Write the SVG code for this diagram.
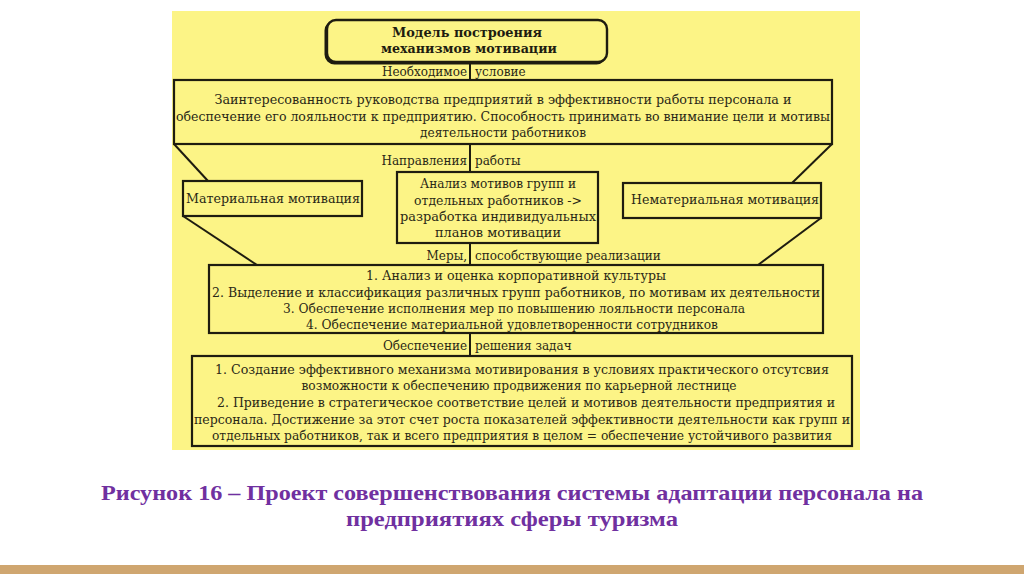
<svg xmlns="http://www.w3.org/2000/svg" width="1024" height="574" viewBox="0 0 1024 574">
<style>
.box{fill:none;stroke:#1e1c10;stroke-width:2.2}
.ln{stroke:#1e1c10;stroke-width:2;fill:none}
.t{font-family:"DejaVu Serif","Liberation Serif",serif;font-size:12px;fill:#2a2816}
.c{text-anchor:middle}
.r{text-anchor:end}
.tb{font-family:"DejaVu Serif","Liberation Serif",serif;font-size:12.5px;font-weight:bold;fill:#1e1c10;text-anchor:middle}
.cap{font-family:"Liberation Serif",serif;font-size:21px;font-weight:bold;fill:#7030A0;text-anchor:middle}
</style>
<rect x="0" y="0" width="1024" height="574" fill="#ffffff"/>
<rect x="172" y="11" width="688" height="439" fill="#fcf486"/>
<rect x="0" y="565" width="1024" height="9" fill="#cfa670"/>

<g id="connectors">
<line class="ln" x1="470" y1="62" x2="470" y2="80"/>
<line class="ln" x1="470" y1="144" x2="470" y2="172"/>
<line class="ln" x1="470" y1="243" x2="470" y2="265"/>
<line class="ln" x1="470" y1="333" x2="470" y2="356"/>
<line class="ln" x1="174" y1="144" x2="208" y2="181"/>
<line class="ln" x1="832" y1="144" x2="792" y2="183"/>
<line class="ln" x1="183" y1="216" x2="257" y2="265"/>
<line class="ln" x1="821" y1="218" x2="758" y2="265"/>
<text class="t r" x="467" y="76">Необходимое</text>
<text class="t" x="475" y="76">условие</text>
<text class="t r" x="467" y="165">Направления</text>
<text class="t" x="475" y="165">работы</text>
<text class="t r" x="467" y="260">Меры,</text>
<text class="t" x="475" y="260">способствующие реализации</text>
<text class="t r" x="467" y="350">Обеспечение</text>
<text class="t" x="475" y="350">решения задач</text>
</g>

<g id="title">
<rect x="325.5" y="21.5" width="280" height="42" rx="9" fill="#1e1c10" stroke="#1e1c10" stroke-width="2"/>
<rect x="327" y="20" width="280" height="42" rx="9" fill="#fcf486" stroke="#1e1c10" stroke-width="2.4"/>
<text class="tb" x="467" y="37" textLength="150" lengthAdjust="spacingAndGlyphs">Модель построения</text>
<text class="tb" x="469" y="53" textLength="176" lengthAdjust="spacingAndGlyphs">механизмов мотивации</text>
</g>

<g id="condition">
<rect x="174" y="80" width="658" height="64" class="box"/>
<text class="t c" x="503" y="104" textLength="577" lengthAdjust="spacingAndGlyphs">Заинтересованность руководства предприятий в эффективности работы персонала и</text>
<text class="t c" x="503" y="121" textLength="654" lengthAdjust="spacingAndGlyphs">обеспечение его лояльности к предприятию. Способность принимать во внимание цели и мотивы</text>
<text class="t c" x="503" y="137" textLength="166" lengthAdjust="spacingAndGlyphs">деятельности работников</text>
</g>

<g id="material">
<rect x="183" y="181" width="179" height="35" class="box"/>
<text class="t c" x="273" y="203" textLength="174" lengthAdjust="spacingAndGlyphs">Материальная мотивация</text>
</g>

<g id="analysis">
<rect x="397" y="172" width="201" height="71" class="box"/>
<text class="t c" x="498" y="188" textLength="156" lengthAdjust="spacingAndGlyphs">Анализ мотивов групп и</text>
<text class="t c" x="498" y="205" textLength="168" lengthAdjust="spacingAndGlyphs">отдельных работников -&gt;</text>
<text class="t c" x="498" y="221" textLength="196" lengthAdjust="spacingAndGlyphs">разработка индивидуальных</text>
<text class="t c" x="498" y="237" textLength="126" lengthAdjust="spacingAndGlyphs">планов мотивации</text>
</g>

<g id="nonmaterial">
<rect x="623" y="183" width="198" height="35" class="box"/>
<text class="t c" x="725" y="204" textLength="188" lengthAdjust="spacingAndGlyphs">Нематериальная мотивация</text>
</g>

<g id="measures">
<rect x="209" y="265" width="614" height="68" class="box"/>
<text class="t c" x="516" y="280" textLength="300" lengthAdjust="spacingAndGlyphs">1. Анализ и оценка корпоративной культуры</text>
<text class="t c" x="516" y="297" textLength="608" lengthAdjust="spacingAndGlyphs">2. Выделение и классификация различных групп работников, по мотивам их деятельности</text>
<text class="t c" x="514" y="313" textLength="462" lengthAdjust="spacingAndGlyphs">3. Обеспечение исполнения мер по повышению лояльности персонала</text>
<text class="t c" x="512" y="329" textLength="412" lengthAdjust="spacingAndGlyphs">4. Обеспечение материальной удовлетворенности сотрудников</text>
</g>

<g id="tasks">
<rect x="192" y="356" width="660" height="90" class="box"/>
<text class="t c" x="522" y="374" textLength="614" lengthAdjust="spacingAndGlyphs">1. Создание эффективного механизма мотивирования в условиях практического отсутсвия</text>
<text class="t c" x="519" y="390" textLength="435" lengthAdjust="spacingAndGlyphs">возможности к обеспечению продвижения по карьерной лестнице</text>
<text class="t c" x="526" y="407" textLength="618" lengthAdjust="spacingAndGlyphs">2. Приведение в стратегическое соответствие целей и мотивов деятельности предприятия и</text>
<text class="t c" x="522" y="424" textLength="656" lengthAdjust="spacingAndGlyphs">персонала. Достижение за этот счет роста показателей эффективности деятельности как групп и</text>
<text class="t c" x="522" y="440" textLength="620" lengthAdjust="spacingAndGlyphs">отдельных работников, так и всего предприятия в целом = обеспечение устойчивого развития</text>
</g>

<text class="cap" x="512" y="500" textLength="822" lengthAdjust="spacingAndGlyphs">Рисунок 16 – Проект совершенствования системы адаптации персонала на</text>
<text class="cap" x="512" y="526" textLength="332" lengthAdjust="spacingAndGlyphs">предприятиях сферы туризма</text>
</svg>
